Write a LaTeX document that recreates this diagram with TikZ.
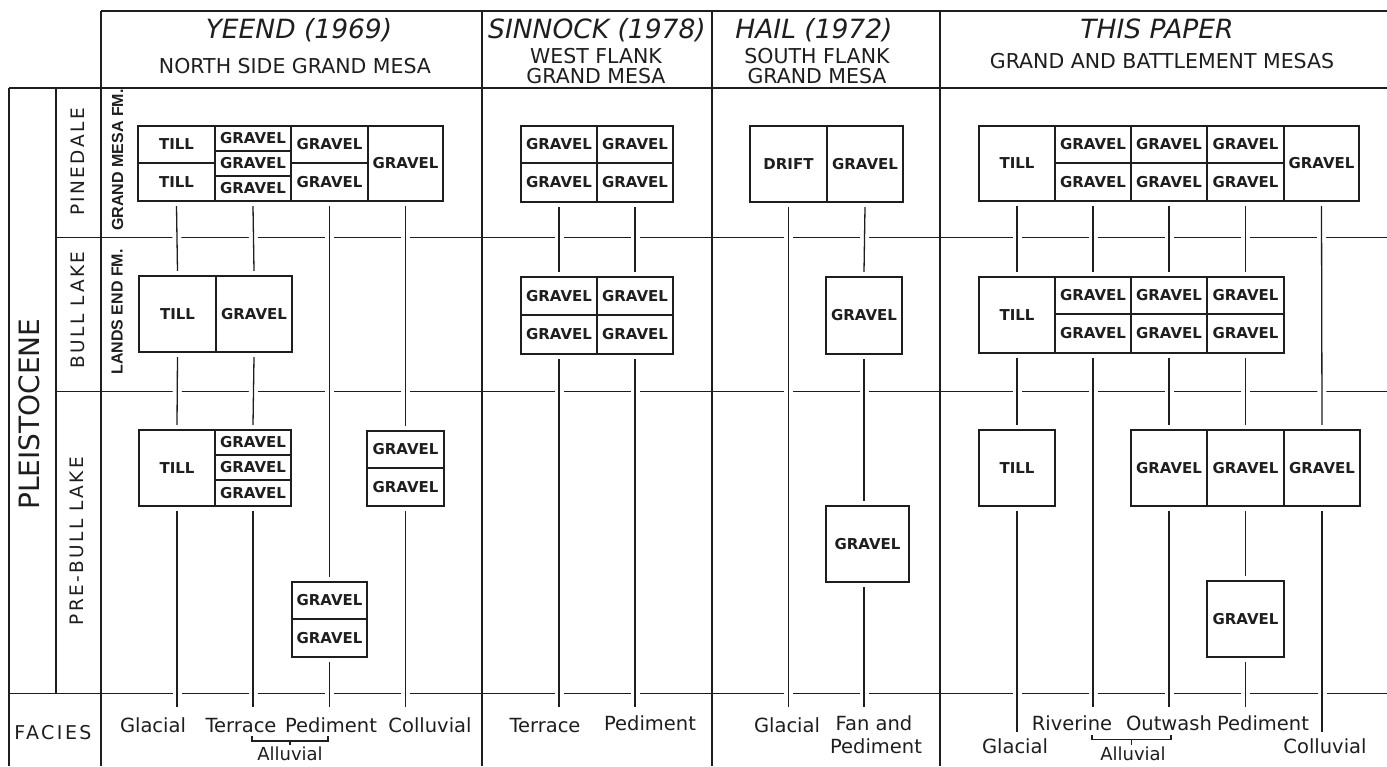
\documentclass[tikz,border=0pt]{standalone}
\usepackage{fontspec}
\setmainfont{DejaVu Sans}
\newfontfamily\spacedfont[LetterSpace=13]{DejaVu Sans}
\newfontfamily\fmfont{Liberation Sans}
\definecolor{ink}{RGB}{30,30,30}
\tikzset{
  frame/.style={draw=ink, line width=1.4pt},
  cell/.style={draw=ink, line width=1.3pt, inner sep=0pt, text=ink, font=\bfseries\fontsize{15}{15}\selectfont},
  conn/.style={draw=ink, line width=1.3pt, preaction={draw=white, line width=9pt}},
  title/.style={anchor=base, text=ink, inner sep=0pt, font=\itshape\fontsize{26.5}{28}\selectfont},
  sub/.style={anchor=base, text=ink, inner sep=0pt, font=\fontsize{20.5}{22}\selectfont},
  facies/.style={anchor=base, text=ink, inner sep=0pt, font=\fontsize{19.5}{21}\selectfont},
  vlab/.style={rotate=90, text=ink, inner sep=0pt, font=\spacedfont\fontsize{18.5}{20}\selectfont},
  fmlab/.style={rotate=90, text=ink, inner sep=0pt, font=\fmfont\bfseries\fontsize{16}{17}\selectfont},
  brack/.style={draw=ink, line width=1.2pt},
}
\newcommand{\cellat}[6]{%
  \pgfmathsetmacro{\cellw}{#4-#2}%
  \pgfmathsetmacro{\cellh}{#5-#3}%
  \node[cell, minimum width=\cellw pt, minimum height=\cellh pt] (#1) at ({(#2+#4)/2},{(#3+#5)/2}) {#6};}
\newcommand{\conn}[2]{\draw[conn] ([yshift=-4.5pt]#1) -- ([yshift=4.5pt]#2);}
\newcommand{\connf}[2]{\draw[conn] ([yshift=-4.5pt]#1) -- (#2);}
\begin{document}
\begin{tikzpicture}[x=1pt, y=-1pt]
\useasboundingbox (0,0) rectangle (1387,766);
\clip (0,0) rectangle (1387,766);
\fill[white] (0,0) rectangle (1387,766);

% ---------- cells: Yeend ----------
\cellat{YP1a}{138}{126}{215}{163}{TILL}
\cellat{YP1b}{138}{163}{215}{201}{TILL}
\cellat{YP2a}{215}{126}{291}{151}{GRAVEL}
\cellat{YP2b}{215}{151}{291}{176}{GRAVEL}
\cellat{YP2c}{215}{176}{291}{201}{GRAVEL}
\cellat{YP3a}{291}{126}{368}{163}{GRAVEL}
\cellat{YP3b}{291}{163}{368}{201}{GRAVEL}
\cellat{YP4}{368}{126}{443}{201}{GRAVEL}
\cellat{YB1}{139}{276}{216}{352}{TILL}
\cellat{YB2}{216}{276}{292}{352}{GRAVEL}
\cellat{YR1}{139}{430}{215}{506}{TILL}
\cellat{YR2a}{215}{430}{291}{455}{GRAVEL}
\cellat{YR2b}{215}{455}{291}{480}{GRAVEL}
\cellat{YR2c}{215}{480}{291}{506}{GRAVEL}
\cellat{YR4a}{367}{431}{444}{468}{GRAVEL}
\cellat{YR4b}{367}{468}{444}{506}{GRAVEL}
\cellat{YR3a}{292}{582}{367}{619}{GRAVEL}
\cellat{YR3b}{292}{619}{367}{657}{GRAVEL}
% ---------- cells: Sinnock ----------
\cellat{SP1a}{521}{126}{597}{163}{GRAVEL}
\cellat{SP1b}{521}{163}{597}{202}{GRAVEL}
\cellat{SP2a}{597}{126}{673}{163}{GRAVEL}
\cellat{SP2b}{597}{163}{673}{202}{GRAVEL}
\cellat{SB1a}{521}{277}{597}{315}{GRAVEL}
\cellat{SB1b}{521}{315}{597}{354}{GRAVEL}
\cellat{SB2a}{597}{277}{673}{315}{GRAVEL}
\cellat{SB2b}{597}{315}{673}{354}{GRAVEL}
% ---------- cells: Hail ----------
\cellat{HP1}{750}{126}{827}{202}{DRIFT}
\cellat{HP2}{827}{126}{903}{202}{GRAVEL}
\cellat{HB}{826}{277}{902}{354}{GRAVEL}
\cellat{HR}{826}{506}{909}{582}{GRAVEL}
% ---------- cells: This paper ----------
\cellat{TP1}{979}{126}{1055}{201}{TILL}
\cellat{TP2a}{1055}{126}{1131}{163}{GRAVEL}
\cellat{TP2b}{1055}{163}{1131}{201}{GRAVEL}
\cellat{TP3a}{1131}{126}{1207}{163}{GRAVEL}
\cellat{TP3b}{1131}{163}{1207}{201}{GRAVEL}
\cellat{TP4a}{1207}{126}{1284}{163}{GRAVEL}
\cellat{TP4b}{1207}{163}{1284}{201}{GRAVEL}
\cellat{TP5}{1284}{126}{1359}{201}{GRAVEL}
\cellat{TB1}{979}{277}{1055}{353}{TILL}
\cellat{TB2a}{1055}{277}{1131}{314}{GRAVEL}
\cellat{TB2b}{1055}{314}{1131}{353}{GRAVEL}
\cellat{TB3a}{1131}{277}{1207}{314}{GRAVEL}
\cellat{TB3b}{1131}{314}{1207}{353}{GRAVEL}
\cellat{TB4a}{1207}{277}{1284}{314}{GRAVEL}
\cellat{TB4b}{1207}{314}{1284}{353}{GRAVEL}
\cellat{TR1}{979}{430}{1055}{506}{TILL}
\cellat{TR3}{1131}{430}{1207}{506}{GRAVEL}
\cellat{TR4}{1207}{430}{1284}{506}{GRAVEL}
\cellat{TR5}{1284}{430}{1360}{506}{GRAVEL}
\cellat{TR4L}{1207}{581}{1284}{657}{GRAVEL}

% ---------- frame ----------
\draw[frame] (101,11) -- (1387,11);
\draw[frame] (9,88) -- (1387,88);
\draw[frame] (9,88) -- (9,766);
\draw[frame] (56,88) -- (56,693.5);
\draw[frame] (101,11) -- (101,766);
\draw[frame] (482,11) -- (482,766);
\draw[frame] (712,11) -- (712,766);
\draw[frame] (940,11) -- (940,766);
\draw[frame] (56,237.5) -- (1387,237.5);
\draw[frame] (56,391.5) -- (1387,391.5);
\draw[frame] (9,693.5) -- (1387,693.5);

% ---------- free ends ----------
\coordinate (yf1) at (YR1.south |- 0,707);
\coordinate (yf2) at (YR2c.south |- 0,707);
\coordinate (yf3) at (YR3b.south |- 0,707);
\coordinate (yf4) at (YR4b.south |- 0,707);
\coordinate (sf1) at (SB1b.south |- 0,707);
\coordinate (sf2) at (SB2b.south |- 0,707);
\coordinate (hf1) at (HP1.south |- 0,707);
\coordinate (hf2) at (HB.south |- 0,707);
\coordinate (tf1) at (TR1.south |- 0,732);
\coordinate (tf2) at (TB2b.south |- 0,707);
\coordinate (tf3) at (TR3.south |- 0,707);
\coordinate (tf4) at (TR4L.south |- 0,707);
\coordinate (tf5) at (TR5.south |- 0,732);

% ---------- connectors ----------
\conn{YP1b.south}{YB1.north}
\conn{YP2c.south}{YB2.north}
\conn{YP3b.south}{YR3a.north}
\conn{YP4.south}{YR4a.north}
\conn{YB1.south}{YR1.north}
\conn{YB2.south}{YR2a.north}
\connf{YR1.south}{yf1}
\connf{YR2c.south}{yf2}
\connf{YR3b.south}{yf3}
\connf{YR4b.south}{yf4}

\conn{SP1b.south}{SB1a.north}
\conn{SP2b.south}{SB2a.north}
\connf{SB1b.south}{sf1}
\connf{SB2b.south}{sf2}

\connf{HP1.south}{hf1}
\conn{HP2.south}{HB.north}
\draw[conn] ([yshift=-4.5pt]HB.south) -- ([yshift=4.5pt]HB.south |- HR.north);
\draw[conn] ([yshift=-4.5pt]HB.south |- HR.south) -- (hf2);

\conn{TP1.south}{TB1.north}
\conn{TP2b.south}{TB2a.north}
\conn{TP3b.south}{TB3a.north}
\conn{TP4b.south}{TB4a.north}
\conn{TP5.south}{TR5.north}
\conn{TB1.south}{TR1.north}
\connf{TB2b.south}{tf2}
\conn{TB3b.south}{TR3.north}
\conn{TB4b.south}{TR4.north}
\conn{TR4.south}{TR4L.north}
\connf{TR1.south}{tf1}
\connf{TR3.south}{tf3}
\connf{TR4L.south}{tf4}
\connf{TR5.south}{tf5}

% ---------- header texts ----------
\node[title] (tY) at (299,38) {YEEND (1969)};
\node[sub] (sY) at (295,73) {NORTH SIDE GRAND MESA};
\node[title] (tS) at (597,38.5) {SINNOCK (1978)};
\node[sub] (sS1) at (596,63) {WEST FLANK};
\node[sub] (sS2) at (596,83) {GRAND MESA};
\node[title] (tH) at (814,38.5) {HAIL (1972)};
\node[sub] (sH1) at (817,63) {SOUTH FLANK};
\node[sub] (sH2) at (817,83) {GRAND MESA};
\node[title] (tT) at (1157,38) {THIS PAPER};
\node[sub] (sT) at (1162,68) {GRAND AND BATTLEMENT MESAS};

% ---------- row labels ----------
\node[rotate=90, text=ink, inner sep=0pt, font=\fontsize{28}{30}\selectfont] (pleis) at (29,414) {PLEISTOCENE};
\node[vlab] (pine) at (78,162) {PINEDALE};
\node[vlab] (bull) at (78,310) {BULL LAKE};
\node[vlab] (prebull) at (77,541) {PRE-BULL LAKE};
\node[fmlab] (gmfm) at (117.5,160) {GRAND MESA FM.};
\node[fmlab] (lefm) at (117,312) {LANDS END FM.};
\node[anchor=base, text=ink, inner sep=0pt, font=\spacedfont\fontsize{19}{20}\selectfont] (fac) at (53,739) {FACIES};

% ---------- facies labels ----------
\node[facies] (fy1) at (153,732) {Glacial};
\node[facies] (fy2) at (241,732) {Terrace};
\node[facies] (fy3) at (331,732) {Pediment};
\node[facies] (fy4) at (430,732) {Colluvial};
\node[facies] (fs1) at (545,732) {Terrace};
\node[facies] (fs2) at (650,730) {Pediment};
\node[facies] (fh1) at (787,732) {Glacial};
\node[facies] (fh2) at (874,730) {Fan and};
\node[facies] (fh3) at (876,753) {Pediment};
\node[facies] (ft1) at (1072,730) {Riverine};
\node[facies] (ft2) at (1169,730) {Outwash};
\node[facies] (ft3) at (1263,730) {Pediment};
\node[facies] (ft4) at (1015,753) {Glacial};
\node[facies] (ft5) at (1325,753) {Colluvial};
\node[facies, font=\fontsize{18}{20}\selectfont] (alY) at (290,760) {Alluvial};
\node[facies, font=\fontsize{18}{20}\selectfont] (alT) at (1133,760) {Alluvial};

% ---------- brackets ----------
\draw[brack] (252,736) -- (252,741) -- (328,741) -- (328,736) (290,741) -- (290,745);
\draw[brack] (1092,735) -- (1092,739.5) -- (1171,739.5) -- (1171,735) (1131.5,739.5) -- (1131.5,744.5);
\end{tikzpicture}
\end{document}
